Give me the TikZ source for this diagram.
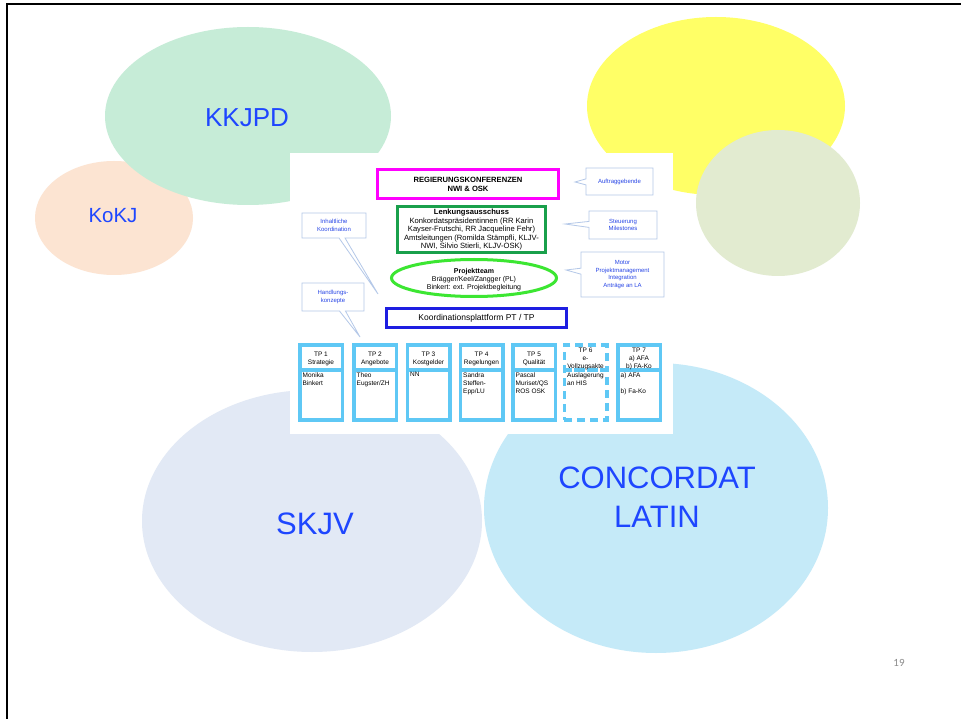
\documentclass[tikz,border=0pt]{standalone}
\usepackage{fontspec}
\setmainfont{Liberation Sans}
\newfontfamily\numfont{Carlito}
\usetikzlibrary{shapes.geometric,shapes.callouts}
\definecolor{txtblue}{RGB}{30,70,255}
\definecolor{kkjpdc}{RGB}{198,236,215}
\definecolor{kokjc}{RGB}{252,228,210}
\definecolor{yellowc}{RGB}{255,255,102}
\definecolor{olivec}{RGB}{226,235,208}
\definecolor{skjvc}{RGB}{226,233,245}
\definecolor{concc}{RGB}{197,234,248}
\definecolor{magc}{RGB}{255,0,255}
\definecolor{lagreen}{RGB}{25,160,75}
\definecolor{ptgreen}{RGB}{60,230,50}
\definecolor{kpblue}{RGB}{30,30,225}
\definecolor{tpblue}{RGB}{95,200,245}
\definecolor{callc}{RGB}{180,200,232}
\definecolor{calltxt}{RGB}{40,70,230}
\definecolor{numgray}{RGB}{140,140,140}
\begin{document}
\begin{tikzpicture}[x=1pt,y=-1pt,
  blob/.style={ellipse, inner sep=0pt, draw=none},
  bigtext/.style={text=txtblue, inner sep=0pt, align=center},
  callbox/.style={rectangle callout, draw=callc, fill=white, line width=0.8pt,
    text=calltxt, font=\fontsize{6}{7.8}\selectfont, align=center, inner sep=0pt,
    callout pointer width=6pt},
  mainbox/.style={draw, line width=3pt, inner sep=0pt, fill=white},
  tphead/.style={draw=tpblue, line width=3.5pt, inner sep=0pt, minimum width=42.5pt,
    minimum height=25pt},
  tpbody/.style={draw=tpblue, line width=3.5pt, inner sep=0pt, minimum width=42.5pt,
    minimum height=50pt},
  tphtext/.style={inner sep=0pt, align=center, font=\fontsize{6.5}{7.7}\selectfont},
  tptext/.style={inner sep=0pt, align=left, anchor=north west, font=\fontsize{6.5}{8}\selectfont},
  tpdash/.style={dash pattern=on 8pt off 5pt}
]
\useasboundingbox (0,0) rectangle (961,719);
\fill[white] (0,0) rectangle (961,719);
% background ellipses
\node[blob, fill=skjvc, minimum width=340pt, minimum height=262pt] (skjv) at (312,521) {};
\node[blob, fill=concc, minimum width=344pt, minimum height=290pt] (conc) at (656,508) {};
\node[blob, fill=kokjc, minimum width=158pt, minimum height=114pt] (kokj) at (114,218) {};
\node[blob, fill=kkjpdc, minimum width=286pt, minimum height=178pt] (kkjpd) at (248,116) {};
\node[blob, fill=yellowc, minimum width=258pt, minimum height=178pt] (yel) at (716,106) {};
\node[blob, fill=olivec, minimum width=164pt, minimum height=146pt] (oli) at (778,203) {};
% labels of ellipses
\node[bigtext, font=\fontsize{26}{30}\selectfont] (kkjpdt) at (247,118) {KKJPD};
\node[bigtext, font=\fontsize{20.5}{24}\selectfont] (kokjt) at (113,216) {KoKJ};
\node[bigtext, font=\fontsize{31}{36}\selectfont] (skjvt) at (315,524) {SKJV};
\node[bigtext, font=\fontsize{31}{39}\selectfont] (conct) at (657,497) {CONCORDAT\\LATIN};
% frame
\draw[line width=2.2pt] (7,719) -- (7,4) -- (961,4);
% white panel
\node[fill=white, minimum width=383pt, minimum height=281pt, inner sep=0pt, anchor=north west] (panel) at (290,153) {};
% main boxes
\node[mainbox, draw=magc, minimum width=181pt, minimum height=29pt] (rk) at (468,184) {};
\node[inner sep=0pt, font=\bfseries\fontsize{7.6}{9}\selectfont, align=center] (rkt) at (468,184) {REGIERUNGSKONFERENZEN\\NWI \& OSK};
\node[mainbox, draw=lagreen, minimum width=148pt, minimum height=46pt] (la) at (471.5,229.5) {};
\node[inner sep=0pt, font=\fontsize{7.6}{8.5}\selectfont, align=center] (lat) at (471.5,230)
  {\textbf{Lenkungsausschuss}\\Konkordatspräsidentinnen (RR Karin\\Kayser-Frutschi, RR Jacqueline Fehr)\\Amtsleitungen (Romilda Stämpfli, KLJV-\\NWI, Silvio Stierli, KLJV-OSK)};
\node[ellipse, draw=ptgreen, line width=3pt, fill=white, inner sep=0pt,
  minimum width=165pt, minimum height=37pt] (pt) at (474,278) {};
\node[inner sep=0pt, align=center, font=\fontsize{7}{8}\selectfont] (ptt) at (474,280)
  {\textbf{Projektteam}\\Brägger/Keel/Zangger (PL)\\Binkert: ext. Projektbegleitung};
\node[mainbox, draw=kpblue, minimum width=180pt, minimum height=19pt,
  font=\fontsize{8.5}{10}\selectfont] (kp) at (476.5,318) {Koordinationsplattform PT / TP};
% callouts
\node[callbox, minimum width=67pt, minimum height=27pt, callout absolute pointer={(575,182)}] (c1) at (619.5,181.5) {Auftraggebende};
\node[callbox, minimum width=68pt, minimum height=28pt, callout absolute pointer={(565,224)}] (c2) at (623,225) {Steuerung\\Milestones};
\node[callbox, minimum width=83pt, minimum height=45pt, callout absolute pointer={(566,270)}] (c3) at (622.5,274.5) {Motor\\Projektmanagement\\Integration\\Anträge an LA};
\node[callbox, minimum width=64pt, minimum height=25pt, callout absolute pointer={(378,294)}] (c4) at (334,225.5) {Inhaltliche\\Koordination};
\node[callbox, minimum width=62pt, minimum height=28pt, callout absolute pointer={(360,337)}] (c5) at (333,297) {Handlungs-\\konzepte};
% TP columns
\foreach \i/\cx/\head/\body/\extra in {
  1/321/{TP 1\\Strategie}/{Monika\\Binkert}/,
  2/375/{TP 2\\Angebote}/{Theo\\Eugster/ZH}/,
  3/428.5/{TP 3\\Kostgelder}/{NN}/,
  4/481.5/{TP 4\\Regelungen}/{Sandra\\Steffen-\\Epp/LU}/,
  5/534/{TP 5\\Qualität}/{Pascal\\Muriset/QS\\ROS OSK}/,
  6/585.5/{TP 6\\e-\\Vollzugsakte}/{Auslagerung\\an HIS}/tpdash,
  7/639/{TP 7\\a) AFA\\b) FA-Ko}/{a) AFA\\[8pt]b) Fa-Ko}/}{
  \node[tpbody, \extra] (b\i) at (\cx,395) {};
  \node[tphead, \extra] (h\i) at (\cx,357.5) {};
  \node[tphtext] (ht\i) at (\cx,358.8) {\head};
  \node[tptext] (t\i) at ([xshift=4.5pt,yshift=-4pt]b\i.north west) {\body};
}
% page number
\node[inner sep=0pt, text=numgray, font=\numfont\fontsize{11}{13}\selectfont] (pg) at (899,663) {19};
\end{tikzpicture}
\end{document}
